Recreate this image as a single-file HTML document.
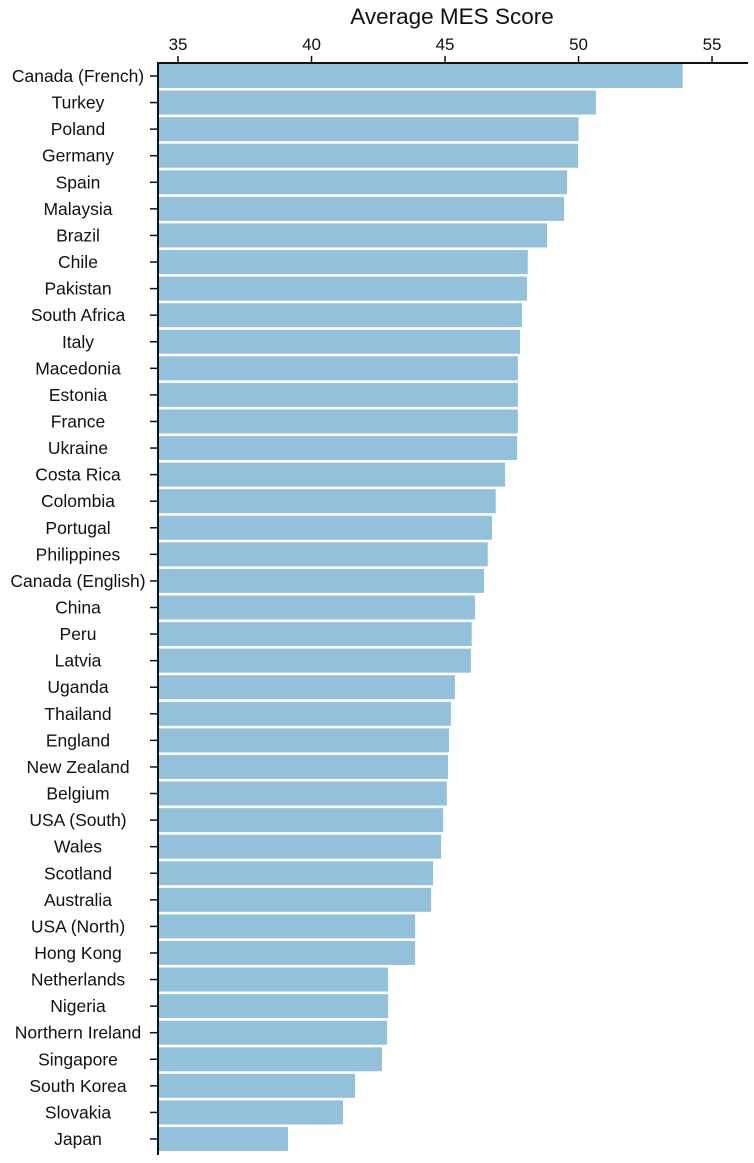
<!DOCTYPE html>
<html><head><meta charset="utf-8"><style>
body{margin:0;background:#fff;}
svg{display:block;font-family:"Liberation Sans",Arial,sans-serif;}
</style></head><body>
<svg id="chart" width="754" height="1163"></svg>
<script>
const categories=["Canada (French)","Turkey","Poland","Germany","Spain","Malaysia","Brazil","Chile","Pakistan","South Africa","Italy","Macedonia","Estonia","France","Ukraine","Costa Rica","Colombia","Portugal","Philippines","Canada (English)","China","Peru","Latvia","Uganda","Thailand","England","New Zealand","Belgium","USA (South)","Wales","Scotland","Australia","USA (North)","Hong Kong","Netherlands","Nigeria","Northern Ireland","Singapore","South Korea","Slovakia","Japan"];
const values=[53.9,50.65,50.0,49.98,49.57,49.46,48.82,48.1,48.07,47.88,47.81,47.73,47.73,47.73,47.7,47.25,46.9,46.76,46.6,46.46,46.12,46.0,45.97,45.37,45.22,45.15,45.11,45.07,44.93,44.85,44.55,44.48,43.88,43.88,42.87,42.87,42.83,42.64,41.63,41.18,39.12];
const ticks=[35,40,45,50,55];
const NS="http://www.w3.org/2000/svg";
const svg=document.getElementById('chart');
const xMin=34.25,x0=158,pxPer=26.7;
function x(v){return x0+(v-xMin)*pxPer;}
const yTop=64,pitch=26.575,barH=24;
function y(i){return yTop+i*pitch;}
function mk(t,a,txt){const e=document.createElementNS(NS,t);for(const k in a)e.setAttribute(k,a[k]);if(txt!==undefined)e.textContent=txt;svg.appendChild(e);return e;}
let e;
e=mk('text',{x:452,y:24,'font-size':22.5,'text-anchor':'middle',fill:'#111'},'Average MES Score');


categories.forEach((c,i)=>{
  const r=mk('rect',{x:x0,y:y(i),width:x(values[i])-x0,height:barH,fill:'#93c1dc'});
  
  
  const t=mk('text',{x:78,y:y(i)+barH/2+6,'font-size':17.5,'text-anchor':'middle',fill:'#111'},c);
  
  
  const tk=mk('line',{x1:150,x2:x0,y1:y(i)+barH/2,y2:y(i)+barH/2,stroke:'#111','stroke-width':1.5});
  
  
});
ticks.forEach(v=>{
  const t=mk('text',{x:x(v),y:50,'font-size':17,'text-anchor':'middle',fill:'#111'},String(v));
  
  
  const l=mk('line',{x1:x(v),x2:x(v),y1:56,y2:63,stroke:'#111','stroke-width':1.5});
  
  
});
e=mk('line',{x1:x0,x2:748,y1:63,y2:63,stroke:'#111','stroke-width':2});


e=mk('line',{x1:x0,x2:x0,y1:62,y2:1155,stroke:'#111','stroke-width':2});


</script>
</body></html>
